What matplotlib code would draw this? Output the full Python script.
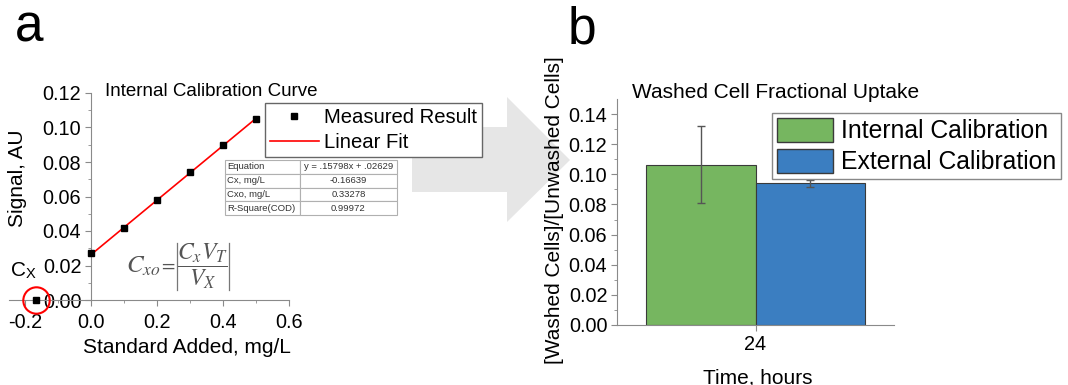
import numpy as np
import matplotlib
matplotlib.use('Agg')
import matplotlib.pyplot as plt
from matplotlib.lines import Line2D
from matplotlib.patches import Patch, Polygon

plt.rcParams['font.family'] = ['Liberation Sans', 'DejaVu Sans']
plt.rcParams['axes.unicode_minus'] = False
plt.rcParams['mathtext.fontset'] = 'stix'

# --- data (panel a) ---
std_added = [0.0, 0.1, 0.2, 0.3, 0.4, 0.5]
signal = [0.027, 0.042, 0.058, 0.074, 0.090, 0.105]
slope = 0.15798
intercept = 0.02629
cx_value = -0.16639
table_labels = ['Equation', 'Cx, mg/L', 'Cxo, mg/L', 'R-Square(COD)']
table_values = ['y = .15798x + .02629', '-0.16639', '0.33278', '0.99972']

# --- data (panel b) ---
times = ['24']
internal = [0.1065]
internal_err = [0.0253]
external = [0.0941]
external_err = [0.0022]

W, H = 1068, 385
fig = plt.figure(figsize=(W / 100, H / 100), dpi=100)


def fx(px):
    return px / W


def fy(py):
    return 1 - py / H


axis_grey = '#8a8a8a'

# background arrow between the panels
arrow = Polygon([(fx(412), fy(127)), (fx(507), fy(127)), (fx(507), fy(97)),
                 (fx(570), fy(160)), (fx(507), fy(222)), (fx(507), fy(192)),
                 (fx(412), fy(192))], closed=True, transform=fig.transFigure,
                facecolor='#e6e6e6', edgecolor='none', zorder=0)
fig.patches.append(arrow)

# ---------------- panel a ----------------
ax1 = fig.add_axes([fx(8.5), fy(300), fx(289) - fx(8.5), fy(93) - fy(300)])
ax1.patch.set_alpha(0)
ax1.set_xlim(-0.25, 0.6)
ax1.set_ylim(0, 0.12)
ax1.spines['top'].set_visible(False)
ax1.spines['right'].set_visible(False)
ax1.spines['left'].set_position(('data', 0))
for s in ['left', 'bottom']:
    ax1.spines[s].set_color(axis_grey)
ax1.set_xticks([-0.2, 0.0, 0.2, 0.4, 0.6])
ax1.set_xticklabels(['%.1f' % v for v in [-0.2, 0.0, 0.2, 0.4, 0.6]])
ax1.set_xticks(np.arange(-0.1, 0.6, 0.2), minor=True)
ax1.set_yticks(np.arange(0, 0.121, 0.02))
ax1.set_yticklabels(['%.2f' % v for v in np.arange(0, 0.121, 0.02)])
ax1.set_yticks(np.arange(0.01, 0.12, 0.02), minor=True)
ax1.tick_params(which='both', direction='out', color=axis_grey, labelsize=14.3)
ax1.tick_params(which='major', length=4)
ax1.tick_params(which='minor', length=2.5)
ax1.tick_params(axis='x', pad=5)
ax1.tick_params(axis='y', pad=3)

fit_x = np.array([0.0, 0.5])
ax1.plot(fit_x, slope * fit_x + intercept, color='red', lw=1.2, zorder=3)
ax1.plot(std_added, signal, 's', color='black', ms=4.5, zorder=4)
ax1.plot([cx_value], [0], 's', color='black', ms=4, clip_on=False, zorder=4)
ax1.plot([cx_value], [0], 'o', mfc='none', mec='red', ms=19, mew=1.5,
         clip_on=False, zorder=4)

fig.text(fx(211), fy(96), 'Internal Calibration Curve', ha='center',
         va='baseline', fontsize=13.5)
fig.text(fx(18), fy(178), 'Signal, AU', rotation=90, ha='center',
         va='center', fontsize=15)
fig.text(fx(187), fy(353), 'Standard Added, mg/L', ha='center',
         va='baseline', fontsize=15)
fig.text(fx(10), fy(276), r'C$_\mathregular{X}$', ha='left', va='baseline',
         fontsize=15)

# formula: C_xo = |C_x V_T / V_X|
formula_grey = '#555555'
fig.text(fx(161), fy(266), r'$C_{xo}$', ha='right', va='center',
         fontsize=18, color=formula_grey)
fig.text(fx(168), fy(266), r'$=$', ha='center', va='center',
         fontsize=14, color=formula_grey)
fig.text(fx(203), fy(266), r'$\dfrac{C_xV_T}{V_X}$', ha='center', va='center',
         fontsize=17, color=formula_grey)
for bx in [177, 229]:
    fig.add_artist(Line2D([fx(bx), fx(bx)], [fy(243), fy(290)],
                          transform=fig.transFigure, color='#777777', lw=0.9))

leg1 = fig.legend(handles=[Line2D([], [], ls='none', marker='s', color='black', ms=4.5),
                           Line2D([], [], color='red', lw=1.2)],
                  labels=['Measured Result', 'Linear Fit'],
                  loc='upper left', bbox_to_anchor=(fx(265), fy(103)),
                  borderaxespad=0, fontsize=14.6, frameon=True, fancybox=False,
                  edgecolor='#666666', framealpha=1, handlelength=2.4,
                  handletextpad=0.25, borderpad=0.25, labelspacing=0.3)
leg1.get_frame().set_linewidth(1.0)
leg1.set_zorder(5)

tab = ax1.table(cellText=[[a, b] for a, b in zip(table_labels, table_values)],
                colWidths=[75, 97], cellLoc='center',
                bbox=[(225 - 8.5) / 280.5, (300 - 215) / 207, 172 / 280.5, 55 / 207])
tab.auto_set_font_size(False)
for (r, c), cell in tab.get_celld().items():
    cell.set_edgecolor('#b0b0b0')
    cell.set_linewidth(0.8)
    cell.get_text().set_fontsize(6.8)
    cell.get_text().set_color('#333333')
    if c == 0:
        cell.get_text().set_ha('left')
        cell._loc = 'left'
        cell.PAD = 0.03
tab.set_zorder(6)

# ---------------- panel b ----------------
ax2 = fig.add_axes([fx(617), fy(325), fx(894) - fx(617), fy(99) - fy(325)])
ax2.set_xlim(-0.63, 0.63)
ax2.set_ylim(0, 0.15)
ax2.spines['top'].set_visible(False)
ax2.spines['right'].set_visible(False)
for s in ['left', 'bottom']:
    ax2.spines[s].set_color(axis_grey)
x = np.arange(len(times))
w = 0.5
ax2.bar(x - w / 2, internal, w, yerr=internal_err, color='#76b660',
        edgecolor='#3a3a3a', linewidth=0.8, label='Internal Calibration',
        error_kw=dict(ecolor='#555555', elinewidth=1, capsize=3, capthick=1))
ax2.bar(x + w / 2, external, w, yerr=external_err, color='#3b7ec1',
        edgecolor='#3a3a3a', linewidth=0.8, label='External Calibration',
        error_kw=dict(ecolor='#555555', elinewidth=1, capsize=3, capthick=1))
ax2.set_xticks(x)
ax2.set_xticklabels(times)
ax2.set_yticks(np.arange(0, 0.141, 0.02))
ax2.set_yticklabels(['%.2f' % v for v in np.arange(0, 0.141, 0.02)])
ax2.set_yticks(np.arange(0.01, 0.15, 0.02), minor=True)
ax2.tick_params(which='both', direction='out', color=axis_grey, labelsize=14.3)
ax2.tick_params(which='major', length=4)
ax2.tick_params(which='minor', length=2.5)
ax2.tick_params(axis='x', pad=3)
ax2.tick_params(axis='y', pad=3)

fig.text(fx(776), fy(98), 'Washed Cell Fractional Uptake', ha='center',
         va='baseline', fontsize=15)
fig.text(fx(555), fy(210), '[Washed Cells]/[Unwashed Cells]', rotation=90,
         ha='center', va='center', fontsize=15)
fig.text(fx(758), fy(383), 'Time, hours', ha='center', va='baseline',
         fontsize=15)

leg2 = fig.legend(handles=[Patch(facecolor='#76b660', edgecolor='#3a3a3a'),
                           Patch(facecolor='#3b7ec1', edgecolor='#3a3a3a')],
                  labels=['Internal Calibration', 'External Calibration'],
                  loc='upper left', bbox_to_anchor=(fx(772), fy(113)),
                  borderaxespad=0, fontsize=17.8, frameon=True, fancybox=False,
                  edgecolor='#888888', framealpha=1, handlelength=2.27,
                  handleheight=1.13, handletextpad=0.32, borderpad=0.2,
                  labelspacing=0.22)
leg2.set_zorder(5)

# panel letters
fig.text(fx(15), fy(42), 'a', ha='left', va='baseline', fontsize=37)
fig.text(fx(568), fy(44), 'b', ha='left', va='baseline', fontsize=37)

fig.savefig('out.png', dpi=100)
